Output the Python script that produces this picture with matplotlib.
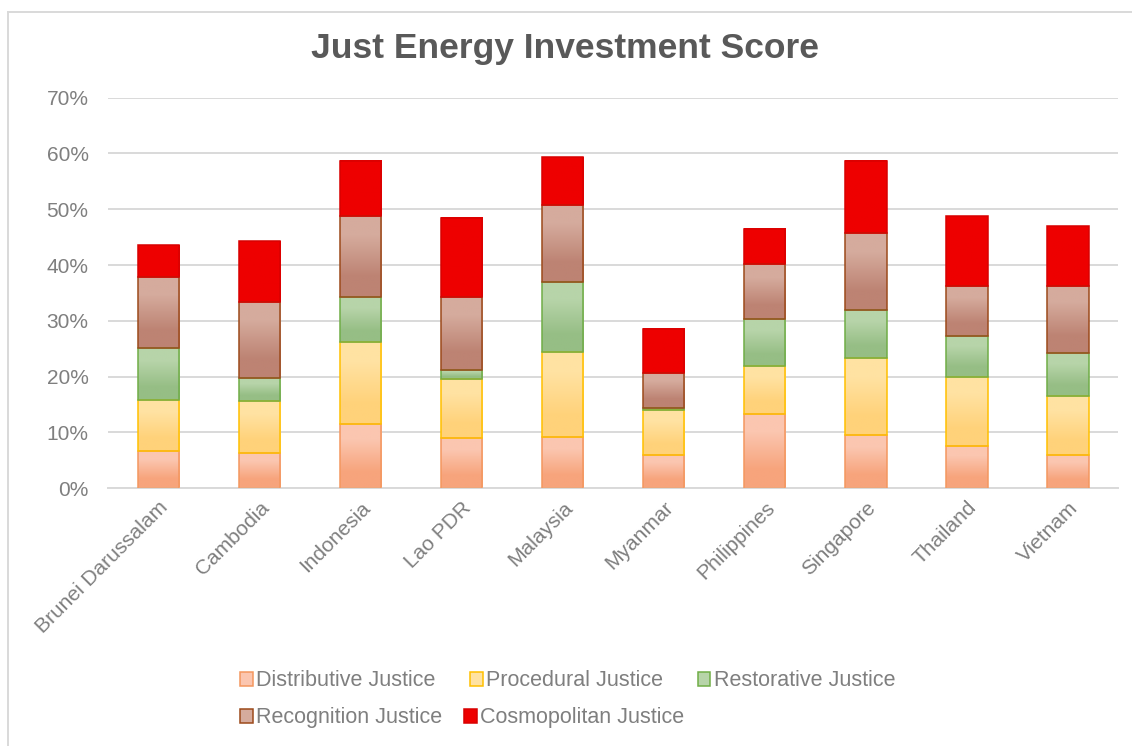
import numpy as np
import matplotlib
matplotlib.use("Agg")
import matplotlib.pyplot as plt
from matplotlib.colors import to_rgb
from matplotlib.lines import Line2D
from matplotlib.patches import Patch

plt.rcParams['font.family'] = ['Liberation Sans', 'DejaVu Sans']

countries = ["Brunei Darussalam", "Cambodia", "Indonesia", "Lao PDR", "Malaysia",
             "Myanmar", "Philippines", "Singapore", "Thailand", "Vietnam"]

# shares in percent
distributive = [6.7, 6.4, 11.5, 9.0, 9.2, 6.0, 13.3, 9.6, 7.6, 6.0]
procedural = [9.2, 9.2, 14.7, 10.5, 15.3, 8.0, 8.6, 13.7, 12.4, 10.5]
restorative = [9.3, 4.1, 8.0, 1.7, 12.5, 0.3, 8.4, 8.7, 7.2, 7.7]
recognition = [12.7, 13.7, 14.6, 13.0, 13.8, 6.3, 9.8, 13.7, 9.1, 12.1]
cosmopolitan = [5.7, 10.9, 9.9, 14.2, 8.5, 7.9, 6.4, 13.0, 12.5, 10.6]

series_names = ["Distributive Justice", "Procedural Justice", "Restorative Justice",
                "Recognition Justice", "Cosmopolitan Justice"]
series_vals = [distributive, procedural, restorative, recognition, cosmopolitan]
# (top colour, bottom colour, edge colour)
series_cols = [("#FBC6B0", "#F7A47C", "#F4975F"),
               ("#FFE2A2", "#FFD27A", "#FFC000"),
               ("#B7D4A9", "#96BE85", "#70AD47"),
               ("#D5AB9D", "#BD8373", "#9C4A1B"),
               ("#EE0000", "#EE0000", "#D80000")]

grey_txt = "#7F7F7F"
grid_col = "#D9D9D9"

fig = plt.figure(figsize=(11.32, 7.46), dpi=100)
ax = fig.add_axes([0.0954, 0.3454, 0.8926, 0.5239])

x = np.arange(len(countries))
bottom = np.zeros(len(countries))
for vals, (ctop, cbot, cedge) in zip(series_vals, series_cols):
    v = np.array(vals) / 100.0
    bars = ax.bar(x, v, width=0.41, bottom=bottom, facecolor="none",
                  edgecolor=cedge, linewidth=1.1, zorder=3)
    grad = np.array([[to_rgb(ctop)], [to_rgb(cbot)]])
    for b in bars:
        x0, y0 = b.get_x(), b.get_y()
        ax.imshow(grad, extent=(x0, x0 + b.get_width(), y0, y0 + b.get_height()),
                  aspect="auto", interpolation="bilinear", origin="upper", zorder=2)
    bottom += v

ax.set_xlim(-0.5, len(countries) - 0.5)
ax.set_ylim(0, 0.7)
ax.set_yticks(np.arange(0, 0.71, 0.1))
ax.set_yticklabels([f"{int(round(t * 100))}%" for t in np.arange(0, 0.71, 0.1)])
ax.set_xticks(x)
ax.set_xticklabels(countries, rotation=45, ha="right", rotation_mode="anchor")
ax.tick_params(axis="both", length=0, labelsize=15, labelcolor=grey_txt)
ax.tick_params(axis="x", pad=7)
ax.tick_params(axis="y", pad=14)
ax.grid(axis="y", color=grid_col, linewidth=1.4, zorder=0)
ax.set_axisbelow(True)
for s in ["top", "right", "left"]:
    ax.spines[s].set_visible(False)
ax.spines["bottom"].set_color(grid_col)
ax.spines["bottom"].set_linewidth(1.4)

fig.text(0.499, 0.935, "Just Energy Investment Score", ha="center", va="center",
         fontsize=25.5, fontweight="bold", color="#595959")

# chart area border (cropped on right and bottom)
fig.add_artist(Line2D([8 / 1132, 1.0], [1 - 12 / 746, 1 - 12 / 746], color=grid_col, lw=1.4))
fig.add_artist(Line2D([8 / 1132, 8 / 1132], [0.0, 1 - 12 / 746], color=grid_col, lw=1.4))

handles = [Patch(facecolor=c[0], edgecolor=c[2], linewidth=1.1) for c in series_cols]
leg_kw = dict(frameon=False, fontsize=15.5, labelcolor=grey_txt, handlelength=0.6,
              handleheight=0.6, handletextpad=0.15,
              borderaxespad=0, borderpad=0)
leg1 = fig.legend(handles[:3], series_names[:3], ncol=3, loc="center left",
                  bbox_to_anchor=(240 / 1132, 1 - 681 / 746), columnspacing=1.6, **leg_kw)
leg2 = fig.legend(handles[3:], series_names[3:], ncol=2, loc="center left",
                  bbox_to_anchor=(240 / 1132, 1 - 718 / 746), columnspacing=1.0, **leg_kw)

fig.savefig("out.png", dpi=100)
